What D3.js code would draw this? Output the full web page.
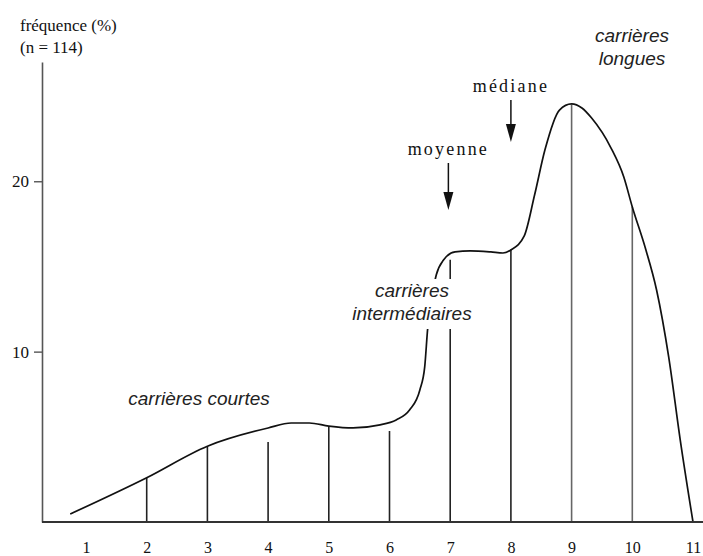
<!DOCTYPE html>
<html>
<head>
<meta charset="utf-8">
<script src="https://cdn.jsdelivr.net/npm/d3@7"></script>
<style>
  html, body { margin: 0; padding: 0; background: #fff; }
  svg { display: block; }
</style>
</head>
<body>
<script>
// ---- data ----
const xTicks = [1, 2, 3, 4, 5, 6, 7, 8, 9, 10, 11];
const yTicks = [10, 20];
const barX = [2, 3, 4, 5, 6, 7, 8, 9, 10];
const barFreq = [2.6, 4.45, 4.7, 5.63, 5.34, 15.4, 16.0, 24.5, 18.5];
const curveX = [0.74, 2.0, 3.0, 4.0, 4.38, 4.68, 5.0, 5.4, 5.82, 6.11, 6.33, 6.5, 6.58, 6.63, 6.69, 6.77, 6.89, 7.08, 7.33, 7.67, 7.87, 8.0, 8.22, 8.39, 8.56, 8.8, 9.0, 9.17, 9.33, 9.65, 9.86, 10.0, 10.21, 10.4, 10.6, 10.79, 11.0];
const curveY = [0.47, 2.6, 4.45, 5.52, 5.81, 5.81, 5.63, 5.52, 5.69, 5.99, 6.57, 7.75, 9.1, 11.39, 13.03, 14.5, 15.38, 15.85, 15.91, 15.85, 15.79, 15.97, 16.79, 19.19, 21.83, 24.18, 24.54, 24.3, 23.71, 21.95, 20.25, 18.49, 16.14, 13.62, 9.68, 4.81, 0];
const markerNames = ["moyenne", "médiane"];
const markerX = [6.97, 8.0];
const yTitle = ["fréquence (%)", "(n = 114)"];

// ---- layout ----
const W = 703, H = 556;
const svg = d3.select("body").append("svg").attr("width", W).attr("height", H);
const x = d3.scaleLinear().domain([1, 11]).range([86, 693]);
const y = d3.scaleLinear().domain([0, 27]).range([522, 62]);
const axisX = 42;
const serif = "'Liberation Serif', 'DejaVu Serif', serif";
const sans = "'Liberation Sans', Arial, sans-serif";

// bars (vertical lines)
svg.append("g").selectAll("line").data(barX).join("line")
  .attr("x1", d => x(d)).attr("x2", d => x(d))
  .attr("y1", y(0)).attr("y2", (d, i) => y(barFreq[i]))
  .attr("stroke", (d, i) => i >= 7 ? "#666" : "#222")
  .attr("stroke-width", 1.6);

// curve
const pts = curveX.map((d, i) => [d, curveY[i]]);
svg.append("path")
  .datum(pts)
  .attr("d", d3.line().x(d => x(d[0])).y(d => y(d[1])).curve(d3.curveMonotoneX))
  .attr("fill", "none").attr("stroke", "#111").attr("stroke-width", 1.7);

// y axis
const gy = svg.append("g").attr("transform", `translate(${axisX},0)`)
  .call(d3.axisLeft(y).tickValues(yTicks).tickSize(8).tickPadding(5).tickSizeOuter(0));
gy.select(".domain").attr("stroke", "#555").attr("stroke-width", 1.6);
gy.selectAll(".tick line").attr("stroke", "#555").attr("stroke-width", 1.4);
gy.selectAll(".tick text").attr("font-family", serif).attr("font-size", 17).attr("fill", "#111");

// x axis
svg.append("line").attr("x1", axisX).attr("x2", W).attr("y1", y(0)).attr("y2", y(0))
  .attr("stroke", "#333").attr("stroke-width", 1.8);
const gx = svg.append("g").attr("transform", `translate(0,${y(0)})`)
  .call(d3.axisBottom(x).tickValues(xTicks).tickSize(0).tickPadding(20).tickFormat(d3.format("d")));
gx.select(".domain").remove();
gx.selectAll(".tick text").attr("font-family", serif).attr("font-size", 16).attr("fill", "#111");

// y title
svg.append("g").selectAll("text").data(yTitle).join("text")
  .attr("x", 20).attr("y", (d, i) => 31 + i * 22)
  .attr("font-family", serif).attr("font-size", 17).attr("fill", "#111")
  .text(d => d);

// mean / median markers
const mk = svg.append("g");
markerX.forEach((mx, i) => {
  const base = i === 0 ? 155 : 92;
  const gtop = base + 8, gbot = base + (i === 0 ? 55 : 50);
  mk.append("text").attr("x", x(mx)).attr("y", base).attr("text-anchor", "middle")
    .attr("font-family", serif).attr("font-size", 18).attr("letter-spacing", 2.2)
    .attr("fill", "#111").text(markerNames[i]);
  mk.append("line").attr("x1", x(mx)).attr("x2", x(mx)).attr("y1", gtop).attr("y2", gbot - 14)
    .attr("stroke", "#111").attr("stroke-width", 1.5);
  mk.append("path")
    .attr("d", `M${x(mx) - 5},${gbot - 18} L${x(mx) + 5},${gbot - 18} L${x(mx)},${gbot} Z`)
    .attr("fill", "#111");
});

// zone labels
function zoneLabel(lines, cx, baseY, bg) {
  const g = svg.append("g");
  if (bg) {
    g.append("rect").attr("x", cx - 64).attr("y", baseY - 18).attr("width", 128)
      .attr("height", lines.length * 23 + 4).attr("fill", "#fff");
  }
  lines.forEach((t, i) => {
    g.append("text").attr("x", cx).attr("y", baseY + i * 23).attr("text-anchor", "middle")
      .attr("font-family", sans).attr("font-style", "italic").attr("font-size", 19)
      .attr("fill", "#222").text(t);
  });
}
zoneLabel(["carrières courtes"], 199, 405, false);
zoneLabel(["carrières", "intermédiaires"], 412, 297, true);
zoneLabel(["carrières", "longues"], 632, 42, false);
</script>
</body>
</html>
